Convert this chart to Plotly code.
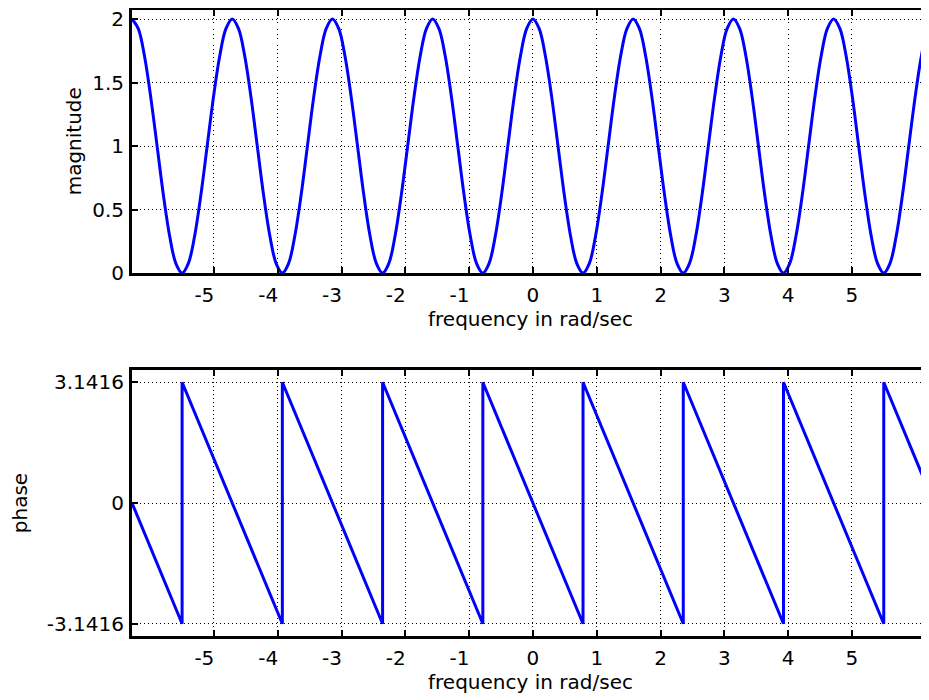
import plotly.graph_objects as go
from plotly.subplots import make_subplots

# ---- data ----
mag_x = [-6.283, -6.185, -6.087, -5.989, -5.890, -5.792, -5.694, -5.596,
         -5.498, -5.400, -5.301, -5.203, -5.105, -5.007, -4.909, -4.811,
         -4.712, -4.614, -4.516, -4.418, -4.320, -4.222, -4.123, -4.025,
         -3.927, -3.829, -3.731, -3.632, -3.534, -3.436, -3.338, -3.240,
         -3.142, -3.043, -2.945, -2.847, -2.749, -2.651, -2.553, -2.454,
         -2.356, -2.258, -2.160, -2.062, -1.963, -1.865, -1.767, -1.669,
         -1.571, -1.473, -1.374, -1.276, -1.178, -1.080, -0.982, -0.884,
         -0.785, -0.687, -0.589, -0.491, -0.393, -0.295, -0.196, -0.098,
         0.000,
         0.098, 0.196, 0.295, 0.393, 0.491, 0.589, 0.687, 0.785,
         0.884, 0.982, 1.080, 1.178, 1.276, 1.374, 1.473, 1.571,
         1.669, 1.767, 1.865, 1.963, 2.062, 2.160, 2.258, 2.356,
         2.454, 2.553, 2.651, 2.749, 2.847, 2.945, 3.043, 3.142,
         3.240, 3.338, 3.436, 3.534, 3.632, 3.731, 3.829, 3.927,
         4.025, 4.123, 4.222, 4.320, 4.418, 4.516, 4.614, 4.712,
         4.811, 4.909, 5.007, 5.105, 5.203, 5.301, 5.400, 5.498,
         5.596, 5.694, 5.792, 5.890, 5.989, 6.087, 6.185, 6.283]

mag_y = [2.000, 1.924, 1.707, 1.383, 1.000, 0.617, 0.293, 0.076,
         0.000, 0.076, 0.293, 0.617, 1.000, 1.383, 1.707, 1.924,
         2.000, 1.924, 1.707, 1.383, 1.000, 0.617, 0.293, 0.076,
         0.000, 0.076, 0.293, 0.617, 1.000, 1.383, 1.707, 1.924,
         2.000, 1.924, 1.707, 1.383, 1.000, 0.617, 0.293, 0.076,
         0.000, 0.076, 0.293, 0.617, 1.000, 1.383, 1.707, 1.924,
         2.000, 1.924, 1.707, 1.383, 1.000, 0.617, 0.293, 0.076,
         0.000, 0.076, 0.293, 0.617, 1.000, 1.383, 1.707, 1.924,
         2.000,
         1.924, 1.707, 1.383, 1.000, 0.617, 0.293, 0.076, 0.000,
         0.076, 0.293, 0.617, 1.000, 1.383, 1.707, 1.924, 2.000,
         1.924, 1.707, 1.383, 1.000, 0.617, 0.293, 0.076, 0.000,
         0.076, 0.293, 0.617, 1.000, 1.383, 1.707, 1.924, 2.000,
         1.924, 1.707, 1.383, 1.000, 0.617, 0.293, 0.076, 0.000,
         0.076, 0.293, 0.617, 1.000, 1.383, 1.707, 1.924, 2.000,
         1.924, 1.707, 1.383, 1.000, 0.617, 0.293, 0.076, 0.000,
         0.076, 0.293, 0.617, 1.000, 1.383, 1.707, 1.924, 2.000]

phase_x = [-6.283, -5.498, -5.498, -3.927, -3.927, -2.356, -2.356, -0.785,
           -0.785, 0.785, 0.785, 2.356, 2.356, 3.927, 3.927, 5.498,
           5.498, 6.283]
phase_y = [0.0, -3.1416, 3.1416, -3.1416, 3.1416, -3.1416, 3.1416, -3.1416,
           3.1416, -3.1416, 3.1416, -3.1416, 3.1416, -3.1416, 3.1416, -3.1416,
           3.1416, 0.0]

x_ticks = [-5, -4, -3, -2, -1, 0, 1, 2, 3, 4, 5]
PAD = "\u00a0\u00a0\u00a0"
x_ticktext = ["-5" + PAD, "-4" + PAD, "-3" + PAD, "-2" + PAD, "-1" + PAD,
              "0", "1", "2", "3", "4", "5"]
mag_ticks = [0, 0.5, 1, 1.5, 2]
mag_ticktext = ["0", "0.5", "1", "1.5", "2"]
phase_ticks = [-3.1416, 0, 3.1416]
phase_ticktext = ["-3.1416", "0", "3.1416"]

FONT = "DejaVu Sans, Liberation Sans, Arial, sans-serif"
FS = 20

fig = make_subplots(rows=2, cols=1)
fig.add_trace(go.Scatter(x=mag_x, y=mag_y, mode="lines",
                         line=dict(color="#0000ff", width=3, shape="spline"),
                         showlegend=False), row=1, col=1)
fig.add_trace(go.Scatter(x=phase_x, y=phase_y, mode="lines",
                         line=dict(color="#0000ff", width=3),
                         showlegend=False), row=2, col=1)

W, H = 921, 692
xaxis_common = dict(
    range=[-6.2832, 6.207], tickvals=x_ticks, ticktext=x_ticktext,
    ticks="inside", ticklen=6, tickwidth=2, tickcolor="black",
    showline=True, linecolor="black", linewidth=3, mirror="ticks",
    showgrid=True, gridcolor="black", gridwidth=1, griddash="1px,3px",
    zeroline=False, automargin=False, domain=[0, 1],
    tickfont=dict(size=FS, color="black", family=FONT),
    ticklabelstandoff=2,
    title=dict(text="frequency in rad/sec", standoff=0,
               font=dict(size=FS, color="black", family=FONT)),
)
yaxis_common = dict(
    ticks="inside", ticklen=6, tickwidth=2, tickcolor="black",
    showline=True, linecolor="black", linewidth=3, mirror=False,
    showgrid=True, gridcolor="black", gridwidth=1, griddash="1px,3px",
    zeroline=False, automargin=False, ticklabeloverflow="allow",
    tickfont=dict(size=FS, color="black", family=FONT),
    ticklabelstandoff=1,
)

fig.update_xaxes(**xaxis_common, row=1, col=1)
fig.update_xaxes(**xaxis_common, row=2, col=1)
fig.update_yaxes(**yaxis_common, range=[0, 2.075], tickvals=mag_ticks,
                 ticktext=mag_ticktext,
                 domain=[1 - 265 / H, 1 - 1.5 / H],
                 title=dict(text="magnitude", standoff=6,
                            font=dict(size=FS, color="black", family=FONT)),
                 row=1, col=1)
fig.update_yaxes(**yaxis_common, range=[-3.46, 3.46], tickvals=phase_ticks,
                 ticktext=phase_ticktext,
                 domain=[1 - 628 / H, 1 - 362 / H],
                 title=dict(text="phase", standoff=14,
                            font=dict(size=FS, color="black", family=FONT)),
                 row=2, col=1)

fig.update_layout(
    width=W, height=H,
    margin=dict(l=124, r=0, t=0, b=0),
    paper_bgcolor="white", plot_bgcolor="white",
    font=dict(family=FONT, size=FS, color="black"),
)

fig.write_html("out.html")
